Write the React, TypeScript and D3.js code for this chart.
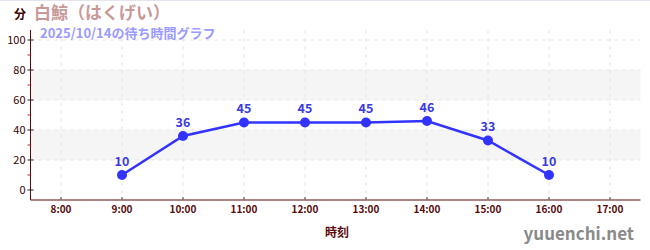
import React from "react";
import * as d3 from "d3";

const hours = [9, 10, 11, 12, 13, 14, 15, 16];
const waits = [10, 36, 45, 45, 45, 46, 33, 10];
const xTicks = [8, 9, 10, 11, 12, 13, 14, 15, 16, 17];
const yMajor = [0, 20, 40, 60, 80, 100];
const yMinor = [10, 30, 50, 70, 90];
const bands: [number, number][] = [[20, 40], [60, 80]];

const W = 650;
const H = 250;
const left = 30.5;
const right = 640.5;
const top = 30;
const bottom = 200;

export default function App() {
  const x = d3.scaleLinear().domain([7.5, 17.5]).range([left, right]);
  const y = d3.scaleLinear().domain([-6.667, 106.667]).range([bottom, top]);
  const line = d3
    .line<number>()
    .x((_, i) => x(hours[i]))
    .y((d) => y(d));
  const font = "'Noto Sans CJK JP', 'Noto Sans', sans-serif";
  const axisColor = "#5a0a0a";

  return (
    <svg
      width={W}
      height={H}
      style={{ position: "absolute", left: 0, top: 0, fontFamily: font }}
    >
      <rect x={0} y={0} width={W} height={H} fill="#fff" />
      <line x1={0} x2={W} y1={0.5} y2={0.5} stroke="#e4e4f0" />
      {bands.map(([a, b], i) => (
        <rect
          key={i}
          x={left}
          width={right - left}
          y={y(b)}
          height={y(a) - y(b)}
          fill="#f5f5f5"
        />
      ))}
      {yMajor.slice(1).map((v) => (
        <line
          key={v}
          x1={left}
          x2={right}
          y1={y(v)}
          y2={y(v)}
          stroke="#e6e6e6"
          strokeDasharray="4,4"
        />
      ))}
      {xTicks.map((t) => (
        <line
          key={t}
          x1={x(t)}
          x2={x(t)}
          y1={top}
          y2={bottom}
          stroke="#e6e6e6"
          strokeDasharray="4,4"
        />
      ))}
      {/* y axis */}
      <line x1={left} x2={left} y1={top} y2={bottom} stroke={axisColor} strokeWidth={1} />
      {yMajor.map((v) => (
        <g key={v}>
          <line x1={left - 3} x2={left + 3} y1={y(v)} y2={y(v)} stroke="#222" />
          <text
            x={left - 5}
            y={y(v)}
            dy="0.35em"
            textAnchor="end"
            fontSize={11}
            fill="#3a0000"
          >
            {v}
          </text>
        </g>
      ))}
      {yMinor.map((v) => (
        <line key={v} x1={left - 3} x2={left} y1={y(v)} y2={y(v)} stroke="#d02020" />
      ))}
      {/* x axis */}
      <line x1={left} x2={right} y1={bottom} y2={bottom} stroke={axisColor} strokeWidth={1.2} />
      {xTicks.map((t) => (
        <g key={t}>
          <line x1={x(t)} x2={x(t)} y1={bottom - 3} y2={bottom} stroke="#777" strokeWidth={1.5} />
          <text
            x={x(t)}
            y={bottom + 13}
            textAnchor="middle"
            fontSize={10}
            fontWeight="bold"
            fill="#5a0a0a"
          >
            {`${t}:00`}
          </text>
        </g>
      ))}
      <text x={337} y={237} textAnchor="middle" fontSize={12} fontWeight="bold" fill="#5a0a0a">
        時刻
      </text>
      {/* series */}
      <path d={line(waits) ?? ""} fill="none" stroke="#3333ff" strokeWidth={2.5} />
      {waits.map((v, i) => (
        <g key={i}>
          <circle cx={x(hours[i])} cy={y(v)} r={5} fill="#3333ff" />
          <text
            x={x(hours[i])}
            y={y(v) - 9}
            textAnchor="middle"
            fontSize={12.5}
            fontWeight="bold"
            fill="#3a3ae0"
          >
            {v}
          </text>
        </g>
      ))}
      {/* titles */}
      <text x={14} y={19} fontSize={12} fontWeight="bold" fill="#400000">
        分
      </text>
      <text x={34} y={19} fontSize={17} fontWeight="bold" fill="#c89898">
        白鯨（はくげい）
      </text>
      <text x={40} y={38} fontSize={13} fontWeight="bold" fill="#9a9aff">
        2025/10/14の待ち時間グラフ
      </text>
      <text x={634} y={240} textAnchor="end" fontSize={17} fontWeight="bold" fill="#8a8a8a">
        yuuenchi.net
      </text>
    </svg>
  );
}
